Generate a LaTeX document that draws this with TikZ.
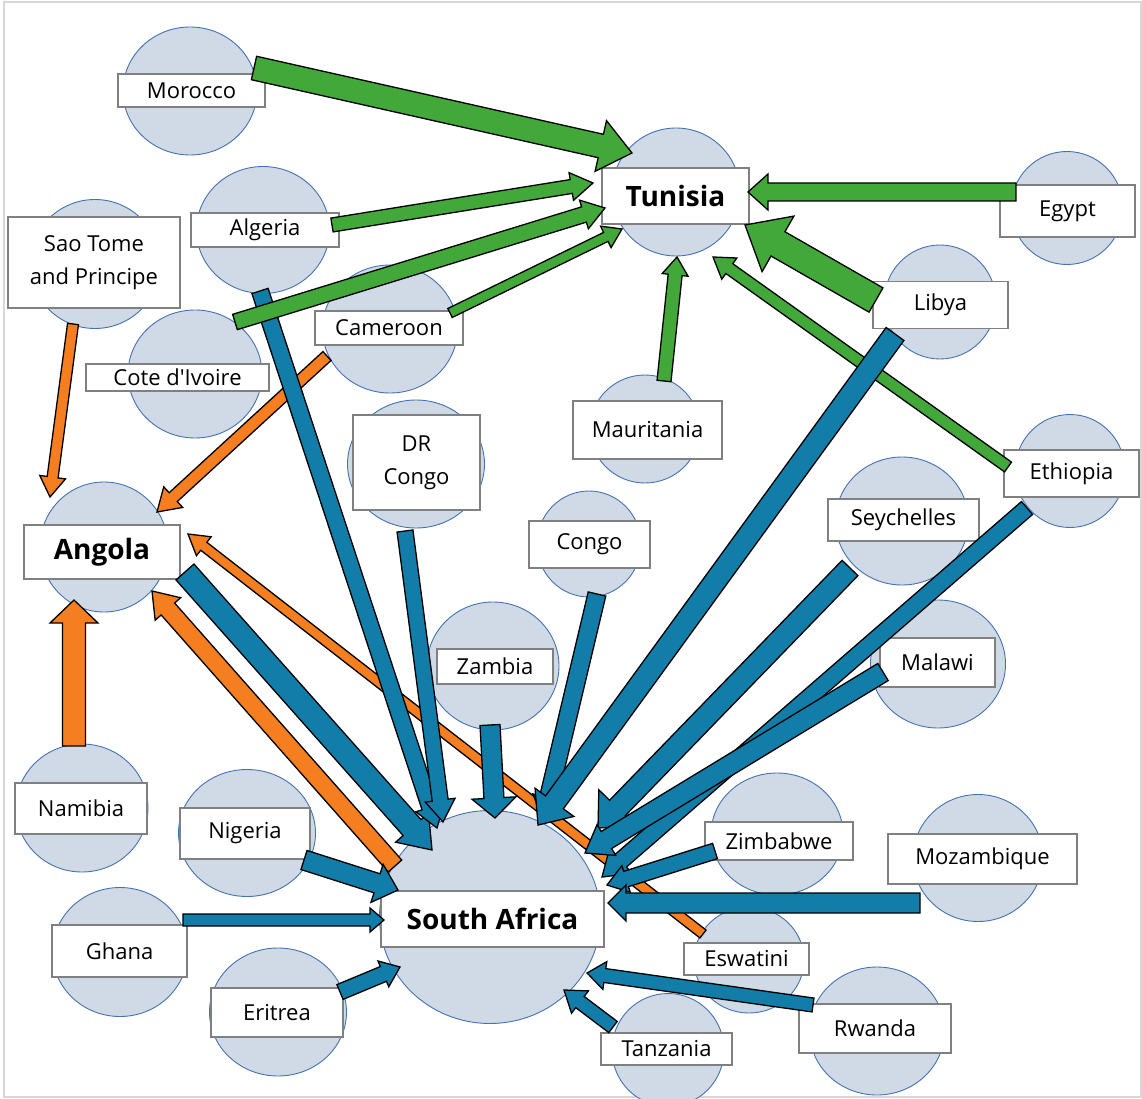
\documentclass[tikz,border=0pt]{standalone}
\usepackage{fontspec}
\setmainfont{Open Sans}
\usetikzlibrary{calc,shapes.geometric}
\definecolor{cfill}{RGB}{207,218,230}
\definecolor{cline}{RGB}{68,114,176}
\definecolor{bgray}{RGB}{128,128,128}
\definecolor{fgreen}{RGB}{67,168,58}
\definecolor{fblue}{RGB}{17,125,168}
\definecolor{forange}{RGB}{245,127,32}
\definecolor{framegray}{RGB}{215,215,215}
% #1 colour, #2 source node, #3 offset, #4 target node, #5 offset, #6 half shaft, #7 half head, #8 head length
\newcommand\flow[8]{%
  \path ($(#2)+(#3)$) coordinate (fa) ($(#4)+(#5)$) coordinate (fb);
  \path ($(fb)!#8pt!(fa)$) coordinate (fh);
  \draw[flowarrow, fill=#1] ($(fa)!#6pt!90:(fb)$) -- ($(fh)!#6pt!90:(fb)$) -- ($(fh)!#7pt!90:(fb)$) -- (fb) -- ($(fh)!#7pt!-90:(fb)$) -- ($(fh)!#6pt!-90:(fb)$) -- ($(fa)!#6pt!-90:(fb)$) -- cycle;
}
\tikzset{
  ctry/.style={ellipse, draw=cline, fill=cfill, line width=0.9pt, inner sep=0pt},
  lbl/.style={rectangle, draw=bgray, fill=white, line width=1.2pt, inner sep=0pt, align=center, font=\fontsize{22}{33}\selectfont},
  big/.style={lbl, font=\fontsize{28}{34}\selectfont\bfseries},
  flowarrow/.style={draw=black, line width=1.3pt, line join=miter}
}
\begin{document}
\begin{tikzpicture}[x=1pt,y=-1pt]
\useasboundingbox (0,0) rectangle (1142,1099);
\draw[framegray, line width=1.5pt] (4,2) rectangle (1141,1097);
% circles
\node[ctry, minimum width=134pt, minimum height=128pt] (mor) at (190,91) {};
\node[ctry, minimum width=128pt, minimum height=128pt] (tun) at (676,192) {};
\node[ctry, minimum width=112pt, minimum height=113pt] (egy) at (1067,208) {};
\node[ctry, minimum width=133pt, minimum height=127pt] (alg) at (263,230) {};
\node[ctry, minimum width=130pt, minimum height=129pt] (sao) at (95,264) {};
\node[ctry, minimum width=135pt, minimum height=128pt] (cam) at (390,329) {};
\node[ctry, minimum width=134pt, minimum height=128pt] (civ) at (195,374) {};
\node[ctry, minimum width=112pt, minimum height=114pt] (lib) at (940,302) {};
\node[ctry, minimum width=110pt, minimum height=108pt] (mau) at (645,429) {};
\node[ctry, minimum width=137pt, minimum height=128pt] (drc) at (416,464) {};
\node[ctry, minimum width=110pt, minimum height=113pt] (eth) at (1070,471) {};
\node[ctry, minimum width=128pt, minimum height=130pt] (ang) at (104,547) {};
\node[ctry, minimum width=104pt, minimum height=106pt] (con) at (589,544) {};
\node[ctry, minimum width=133pt, minimum height=128pt] (sey) at (902,521) {};
\node[ctry, minimum width=132pt, minimum height=128pt] (zam) at (493,666) {};
\node[ctry, minimum width=135pt, minimum height=128pt] (mal) at (938,664) {};
\node[ctry, minimum width=132pt, minimum height=128pt] (nam) at (82,808) {};
\node[ctry, minimum width=137pt, minimum height=127pt] (nig) at (247,833) {};
\node[ctry, minimum width=132pt, minimum height=122pt] (zim) at (777,834) {};
\node[ctry, minimum width=130pt, minimum height=127pt] (moz) at (978,858) {};
\node[ctry, minimum width=221pt, minimum height=213pt] (saf) at (490,917) {};
\node[ctry, minimum width=135pt, minimum height=129pt] (gha) at (120,952) {};
\node[ctry, minimum width=110pt, minimum height=106pt] (esw) at (749,960) {};
\node[ctry, minimum width=137pt, minimum height=128pt] (eri) at (278,1012) {};
\node[ctry, minimum width=112pt, minimum height=113pt] (tan) at (668,1050) {};
\node[ctry, minimum width=135pt, minimum height=128pt] (rwa) at (877,1031) {};
% labels
\node[lbl, minimum width=147pt, minimum height=33pt] (morL) at (191.5,90.5) {Morocco};
\node[big, minimum width=147pt, minimum height=56pt] (tunL) at (675.5,196) {Tunisia};
\node[lbl, minimum width=135pt, minimum height=52pt] (egyL) at (1067.5,211) {Egypt};
\node[lbl, minimum width=148pt, minimum height=34pt] (algL) at (265,230) {Algeria};
\node[lbl, minimum width=172pt, minimum height=91pt] (saoL) at (94,262.5) {Sao Tome\\and Principe};
\node[lbl, minimum width=148pt, minimum height=34pt] (camL) at (389,328) {Cameroon};
\node[lbl, minimum width=183pt, minimum height=27pt] (civL) at (177.5,377.5) {Cote d\textquotesingle Ivoire};
\node[lbl, minimum width=135pt, minimum height=47pt] (libL) at (940.5,305) {Libya};
\node[lbl, minimum width=149pt, minimum height=58pt] (mauL) at (647.5,430) {Mauritania};
\node[lbl, minimum width=127pt, minimum height=95pt] (drcL) at (416.5,462.5) {DR\\Congo};
\node[lbl, minimum width=135pt, minimum height=47pt] (ethL) at (1071.5,473.5) {Ethiopia};
\node[big, minimum width=156pt, minimum height=54pt] (angL) at (102,552) {Angola};
\node[lbl, minimum width=121pt, minimum height=47pt] (conL) at (589.5,544.5) {Congo};
\node[lbl, minimum width=151pt, minimum height=42pt] (seyL) at (903.5,520) {Seychelles};
\node[lbl, minimum width=116pt, minimum height=35pt] (zamL) at (495,666.5) {Zambia};
\node[lbl, minimum width=115pt, minimum height=49pt] (malL) at (937.5,662.5) {Malawi};
\node[lbl, minimum width=132pt, minimum height=51pt] (namL) at (81,808.5) {Namibia};
\node[lbl, minimum width=130pt, minimum height=51pt] (nigL) at (245,833.5) {Nigeria};
\node[lbl, minimum width=148pt, minimum height=38pt] (zimL) at (779,841) {Zimbabwe};
\node[lbl, minimum width=189pt, minimum height=50pt] (mozL) at (982.5,859) {Mozambique};
\node[big, minimum width=223pt, minimum height=56pt] (safL) at (492.5,919) {South Africa};
\node[lbl, minimum width=135pt, minimum height=52pt] (ghaL) at (119.5,951) {Ghana};
\node[lbl, minimum width=125pt, minimum height=32pt] (eswL) at (746.5,959) {Eswatini};
\node[lbl, minimum width=132pt, minimum height=49pt] (eriL) at (277,1012.5) {Eritrea};
\node[lbl, minimum width=131pt, minimum height=32pt] (tanL) at (666.5,1049) {Tanzania};
\node[lbl, minimum width=152pt, minimum height=49pt] (rwaL) at (875,1028.5) {Rwanda};
% orange flows to Angola
\flow{forange}{sao}{-22,60}{ang}{-54,-50}{5.5}{13}{20}
\flow{forange}{cam}{-63,27}{ang}{53,-35}{6}{14}{22}
\flow{forange}{nam}{-8,-62}{ang}{-30,53}{11.5}{24}{23}
\flow{forange}{esw}{-46,-26}{ang}{84,-13}{5}{12}{20}
\flow{forange}{saf}{-95,-51}{ang}{48,44}{9}{17}{24}
% green under blue
\flow{fgreen}{eth}{-62,-4}{tun}{37,65}{6}{13}{20}
% blue flows to South Africa
\flow{fblue}{ang}{81,25}{saf}{-58,-67}{12}{22}{30}
\flow{fblue}{alg}{-3,61}{saf}{-53,-89}{8.5}{15}{22}
\flow{fblue}{drc}{-11,67}{saf}{-47,-95}{8}{15}{22}
\flow{fblue}{zam}{-3,59}{saf}{5,-99}{10}{22}{20}
\flow{fblue}{con}{8,50}{saf}{53,-96}{9}{16}{24}
\flow{fblue}{lib}{-45,32}{saf}{48,-92}{11}{24}{28}
\flow{fblue}{sey}{-52,47}{saf}{108,-89}{11}{26}{28}
\flow{fblue}{eth}{-43,37}{saf}{112,-40}{8.5}{17}{25}
\flow{fblue}{mal}{-55,8}{saf}{95,-64}{10}{18}{25}
\flow{fblue}{zim}{-62,17}{saf}{117,-32}{8}{14}{20}
\flow{fblue}{moz}{-58,45}{saf}{118,-14}{10}{18}{18}
\flow{fblue}{rwa}{-64,-26}{saf}{97,56}{7}{14}{18}
\flow{fblue}{tan}{-55,-23}{saf}{74,73}{7}{14}{20}
\flow{fblue}{eri}{62,-20}{saf}{-90,50}{8}{14}{18}
\flow{fblue}{gha}{63,-32}{saf}{-106,3}{6}{12}{14}
\flow{fblue}{nig}{57,27}{saf}{-92,-27}{10}{20}{22}
% green flows to Tunisia
\flow{fgreen}{mor}{64,-23}{tun}{-44,-39}{12}{26}{32}
\flow{fgreen}{alg}{69,-5}{tun}{-83,-9}{7}{14}{22}
\flow{fgreen}{civ}{40,-52}{tun}{-71,16}{8}{15}{22}
\flow{fgreen}{cam}{60,-16}{tun}{-54,37}{5}{12}{18}
\flow{fgreen}{egy}{-51,-16}{tun}{72,0}{9}{18}{20}
\flow{fgreen}{lib}{-64,-2}{tun}{69,33}{14}{32}{38}
\flow{fgreen}{mau}{19,-48}{tun}{1,65}{7}{13}{18}
\end{tikzpicture}
\end{document}
